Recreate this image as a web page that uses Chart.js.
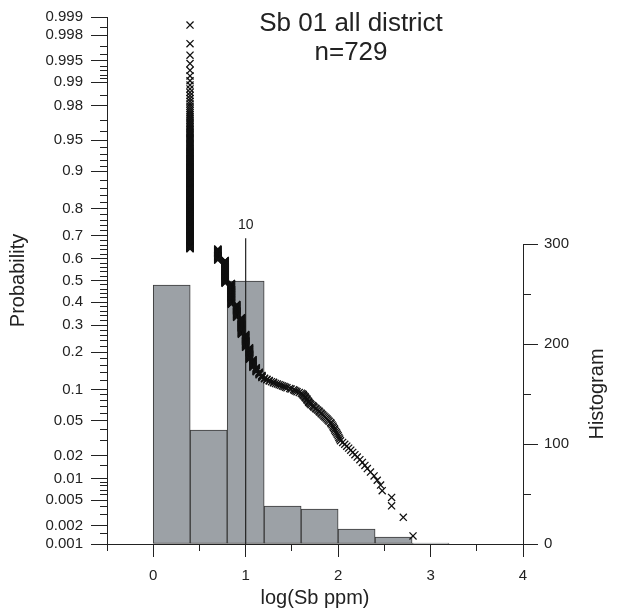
<!DOCTYPE html>
<html>
<head>
<meta charset="utf-8">
<script src="https://cdn.jsdelivr.net/npm/chart.js@4.4.1/dist/chart.umd.min.js"></script>
<style>
html,body{margin:0;padding:0;background:#fff;}
#wrap{width:622px;height:616px;}
</style>
</head>
<body>
<div id="wrap"><canvas id="c" width="622" height="616"></canvas></div>
<script>
// ---- data ----
// Sb concentrations (ppm) of the samples and how many samples share each value
const sbPpm = [2.5, 5, 6, 7, 8, 9, 10, 11, 12, 13, 14, 15,
  16, 17, 18, 19, 20, 21, 22, 23, 24, 25, 26, 27, 28, 30,
  31, 33, 34, 35, 36, 38, 40,
  41, 42, 43, 44, 45, 46, 47, 48, 49, 50,
  51, 53, 54, 55, 57, 58, 60, 62, 63, 65, 66, 68, 70, 72, 74, 76, 78, 80, 83,
  84, 86, 88, 89, 91, 92, 94, 96, 98, 100, 102, 104, 106,
  112, 118, 124, 130, 137, 144, 152, 161,
  172, 183, 195, 207, 224, 245, 265, 288, 300, 379, 507, 646];
const sbCount = [259, 37, 78, 71, 42, 50, 35, 28, 17, 9, 6, 5,
  2, 2, 2, 1, 2, 1, 1, 1, 1, 1, 1, 1, 1, 1,
  1, 1, 1, 1, 1, 1, 1,
  1, 2, 1, 2, 1, 2, 1, 2, 1, 1,
  1, 1, 1, 1, 1, 1, 1, 1, 1, 1, 1, 1, 1, 1, 1, 1, 1, 1, 1,
  1, 1, 1, 1, 1, 1, 1, 1, 1, 1, 1, 1, 1,
  1, 1, 1, 1, 1, 1, 1, 1,
  1, 1, 1, 1, 1, 1, 1, 1, 1, 2, 1, 1];

// histogram of log(Sb ppm): lower bin edges, bin width and counts
const binLower = [0, 0.4, 0.8, 1.2, 1.6, 2.0, 2.4, 2.8];
const binWidth = 0.4;
const binCount = [259, 114, 263, 38, 35, 15, 7, 1];

// reference line at 10 ppm
const refPpm = 10;
const refLabel = "10";
const refTopProb = 0.69;

// axis ticks
const probMajor = [0.001, 0.002, 0.005, 0.01, 0.02, 0.05, 0.1, 0.2, 0.3, 0.4, 0.5,
  0.6, 0.7, 0.8, 0.9, 0.95, 0.98, 0.99, 0.995, 0.998, 0.999];
const probMajorLabels = ["0.001", "0.002", "0.005", "0.01", "0.02", "0.05", "0.1", "0.2", "0.3", "0.4", "0.5",
  "0.6", "0.7", "0.8", "0.9", "0.95", "0.98", "0.99", "0.995", "0.998", "0.999"];
const probMinor = [0.0015, 0.003, 0.004, 0.006, 0.007, 0.008, 0.009, 0.015, 0.03, 0.04,
  0.06, 0.07, 0.08, 0.09, 0.12, 0.14, 0.16, 0.18, 0.22, 0.24, 0.26, 0.28,
  0.32, 0.34, 0.36, 0.38, 0.42, 0.44, 0.46, 0.48, 0.52, 0.54, 0.56, 0.58,
  0.62, 0.64, 0.66, 0.68, 0.72, 0.74, 0.76, 0.78, 0.82, 0.84, 0.86, 0.88,
  0.91, 0.92, 0.93, 0.94, 0.96, 0.97, 0.985, 0.991, 0.992, 0.993, 0.994,
  0.996, 0.997, 0.9985];
const xMajor = [0, 1, 2, 3, 4];
const xMinor = [-0.5, 0.5, 1.5, 2.5, 3.5];
const histMajor = [0, 100, 200, 300];
const histMinor = [50, 150, 250];

const titleLines = ["Sb 01 all district", "n=729"];
const xTitle = "log(Sb ppm)";
const yTitle = "Probability";
const y2Title = "Histogram";

// ---- normal probability (probit) transform used by the probability axis ----
function probit(p) {
  const a = [-3.969683028665376e+01, 2.209460984245205e+02, -2.759285104469687e+02, 1.383577518672690e+02, -3.066479806614716e+01, 2.506628277459239e+00];
  const b = [-5.447609879822406e+01, 1.615858368580409e+02, -1.556989798598866e+02, 6.680131188771972e+01, -1.328068155288572e+01];
  const c = [-7.784894002430293e-03, -3.223964580411365e-01, -2.400758277161838e+00, -2.549732539343734e+00, 4.374664141464968e+00, 2.938163982698783e+00];
  const d = [7.784695709041462e-03, 3.224671290700398e-01, 2.445134137142996e+00, 3.754408661907416e+00];
  const pl = 0.02425, ph = 1 - pl;
  let q, r;
  if (p < pl) {
    q = Math.sqrt(-2 * Math.log(p));
    return (((((c[0]*q+c[1])*q+c[2])*q+c[3])*q+c[4])*q+c[5]) / ((((d[0]*q+d[1])*q+d[2])*q+d[3])*q+1);
  }
  if (p <= ph) {
    q = p - 0.5; r = q * q;
    return (((((a[0]*r+a[1])*r+a[2])*r+a[3])*r+a[4])*r+a[5])*q / (((((b[0]*r+b[1])*r+b[2])*r+b[3])*r+b[4])*r+1);
  }
  q = Math.sqrt(-2 * Math.log(1 - p));
  return -(((((c[0]*q+c[1])*q+c[2])*q+c[3])*q+c[4])*q+c[5]) / ((((d[0]*q+d[1])*q+d[2])*q+d[3])*q+1);
}

// probability plot points: rank-based plotting position, exceedance probability
const nSamples = sbCount.reduce((s, v) => s + v, 0);
const probPoints = [];
let rank = 0;
sbPpm.forEach((v, i) => {
  for (let k = 0; k < sbCount[i]; k++) {
    rank++;
    probPoints.push({ x: Math.log10(v), y: probit(1 - rank / (nSamples + 1)) });
  }
});
const histData = binLower.map((lo, i) => ({ x: lo + binWidth / 2, y: binCount[i] }));
const zMin = probit(0.001), zMax = probit(0.999);
const refData = [{ x: Math.log10(refPpm), y: zMin }, { x: Math.log10(refPpm), y: probit(refTopProb) }];

const FONT = '"Liberation Sans", Arial, Helvetica, sans-serif';
const INK = '#222222';
Chart.defaults.font.family = FONT;
Chart.defaults.color = INK;

function ticksFrom(list, f) { return s => { s.ticks = list.map(v => ({ value: f ? f(v) : v })); }; }

const textPlugin = {
  id: 'texts',
  afterDraw(chart) {
    const ctx = chart.ctx;
    const xs = chart.scales.x, yh = chart.scales.yH, yp = chart.scales.y;
    ctx.save();
    // right axis line only along the 0..300 range
    const xr = Math.round(yh.left) + 0.5;
    ctx.strokeStyle = INK; ctx.lineWidth = 1;
    ctx.beginPath();
    ctx.moveTo(xr, Math.round(yh.getPixelForValue(300)) + 0.5);
    ctx.lineTo(xr, Math.round(yh.getPixelForValue(0)) + 0.5);
    ctx.stroke();

    ctx.fillStyle = INK;
    ctx.textAlign = 'center';
    ctx.textBaseline = 'alphabetic';
    ctx.font = '26px ' + FONT;
    ctx.fillText(titleLines[0], 351, 31);
    ctx.fillText(titleLines[1], 351, 60);

    ctx.font = '20px ' + FONT;
    ctx.fillText(xTitle, (xs.left + xs.right) / 2, 604);

    ctx.textBaseline = 'middle';
    ctx.save();
    ctx.translate(18, (yp.top + yp.bottom) / 2);
    ctx.rotate(-Math.PI / 2);
    ctx.fillText(yTitle, 0, 0);
    ctx.restore();

    ctx.save();
    ctx.translate(597, (yh.getPixelForValue(0) + yh.getPixelForValue(300)) / 2);
    ctx.rotate(-Math.PI / 2);
    ctx.fillText(y2Title, 0, 0);
    ctx.restore();

    ctx.font = '14px ' + FONT;
    ctx.textBaseline = 'alphabetic';
    ctx.fillText(refLabel, xs.getPixelForValue(Math.log10(refPpm)), yp.getPixelForValue(probit(refTopProb)) - 9);
    ctx.restore();
  }
};

const tickFont = { size: 15, family: FONT };

new Chart(document.getElementById('c'), {
  data: {
    datasets: [
      {
        type: 'scatter', data: probPoints, xAxisID: 'x', yAxisID: 'y', order: 1,
        pointStyle: 'crossRot', pointRadius: 5, pointBorderWidth: 1.3,
        borderColor: '#111111', backgroundColor: '#111111', showLine: false
      },
      {
        type: 'line', data: refData, xAxisID: 'x', yAxisID: 'y', order: 2,
        borderColor: INK, borderWidth: 1.2, pointRadius: 0, fill: false
      },
      {
        type: 'bar', data: histData, xAxisID: 'x', yAxisID: 'yH', order: 3,
        backgroundColor: '#9ca1a6', borderColor: '#3a3a3a', borderWidth: 1,
        borderSkipped: false, barPercentage: 1, categoryPercentage: 1, grouped: false
      }
    ]
  },
  options: {
    responsive: false, animation: false, events: [],
    layout: { padding: { top: 15, left: 0, right: 0, bottom: 0 } },
    plugins: { legend: { display: false }, tooltip: { enabled: false }, title: { display: false } },
    scales: {
      x: {
        type: 'linear', position: 'bottom', min: -0.5, max: 4, weight: 1, offset: false,
        afterBuildTicks: ticksFrom(xMajor), afterFit: s => { s.height = 72; },
        ticks: { autoSkip: false, maxRotation: 0, font: tickFont, color: INK, padding: 10, callback: v => String(v) },
        grid: { drawOnChartArea: false, offset: false, tickLength: 13, tickColor: INK, tickWidth: 1 },
        border: { display: true, color: INK, width: 1 }
      },
      xMinor: {
        type: 'linear', position: 'bottom', min: -0.5, max: 4, weight: 0, offset: false,
        afterBuildTicks: ticksFrom(xMinor), afterFit: s => { s.height = 0; },
        ticks: { display: false, autoSkip: false },
        grid: { drawOnChartArea: false, offset: false, tickLength: 7, tickColor: INK, tickWidth: 1 },
        border: { display: false }
      },
      y: {
        type: 'linear', position: 'left', min: zMin, max: zMax, weight: 1,
        afterBuildTicks: ticksFrom(probMajor, probit), afterFit: s => { s.width = 107; },
        ticks: { autoSkip: false, font: tickFont, color: INK, padding: 8, callback: (v, i) => probMajorLabels[i] },
        grid: { drawOnChartArea: false, tickLength: 16, tickColor: INK, tickWidth: 1 },
        border: { display: true, color: INK, width: 1 }
      },
      yMinor: {
        type: 'linear', position: 'left', min: zMin, max: zMax, weight: 0,
        afterBuildTicks: ticksFrom(probMinor, probit), afterFit: s => { s.width = 0; },
        ticks: { display: false, autoSkip: false },
        grid: { drawOnChartArea: false, tickLength: 7, tickColor: INK, tickWidth: 1 },
        border: { display: false }
      },
      yH: {
        type: 'linear', position: 'right', min: 0, max: 527, weight: 1,
        afterBuildTicks: ticksFrom(histMajor), afterFit: s => { s.width = 99; },
        ticks: { autoSkip: false, font: tickFont, color: INK, padding: 6, callback: v => String(v) },
        grid: { drawOnChartArea: false, tickLength: 15, tickColor: INK, tickWidth: 1 },
        border: { display: false }
      },
      yHMinor: {
        type: 'linear', position: 'right', min: 0, max: 527, weight: 0,
        afterBuildTicks: ticksFrom(histMinor), afterFit: s => { s.width = 0; },
        ticks: { display: false, autoSkip: false },
        grid: { drawOnChartArea: false, tickLength: 8, tickColor: INK, tickWidth: 1 },
        border: { display: false }
      }
    }
  },
  plugins: [textPlugin]
});
</script>
</body>
</html>
